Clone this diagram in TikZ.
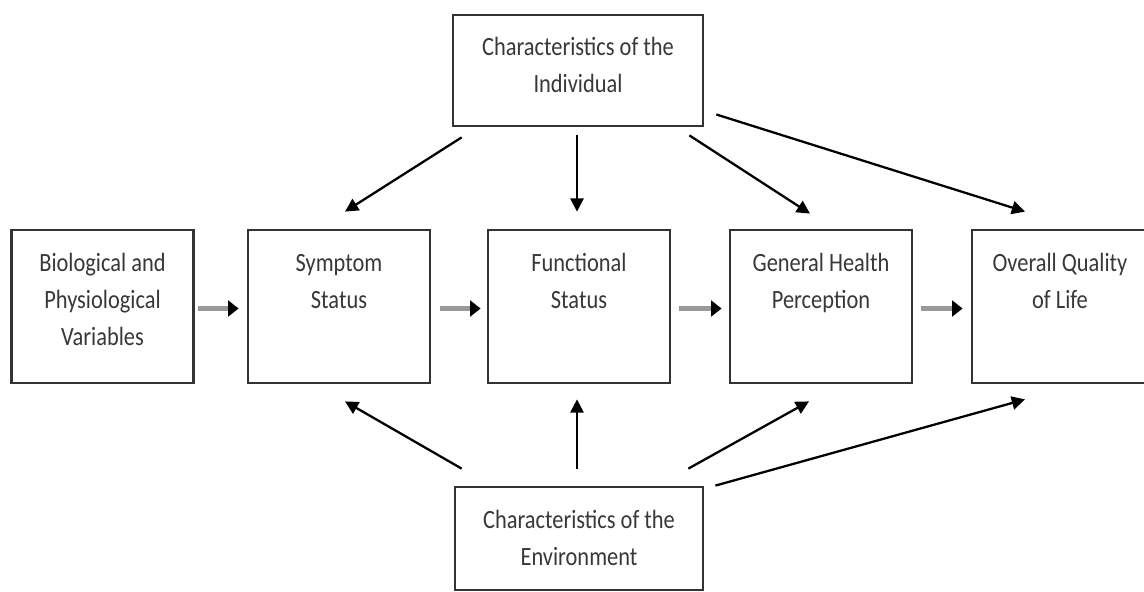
\documentclass[tikz,border=0pt]{standalone}
\usepackage{fontspec}
\setmainfont{Carlito}
\usetikzlibrary{arrows.meta,calc}
% condensed, multi-line box caption
\newcommand{\boxtext}[1]{\scalebox{0.85}[1]{\begin{tabular}[t]{@{}c@{}}#1\end{tabular}}}
\begin{document}
\begin{tikzpicture}[x=0.02cm,y=-0.02cm,
  box/.style={draw=black!80,line width=1.6pt,fill=white,inner sep=0pt},
  stage/.style={box,minimum width=3.64cm,minimum height=3.06cm},
  lbl/.style={anchor=base,inner sep=0pt,text=black!78,font=\fontsize{15}{21}\selectfont},
  link/.style={draw=black,line width=1.3pt,-{Triangle[length=7.5pt,width=7.5pt]}},
  flow/.style={draw=black!40,line width=3.2pt,-{Triangle[black,length=6pt,width=9pt]}}]
\clip (0,0) rectangle (1144,592);
\useasboundingbox (0,0) rectangle (1144,592);

% main sequence of stages
\node[stage] (bio) at (102.5,306.5) {};
\node[stage] (sym) at (339,306.5) {};
\node[stage] (fun) at (579,306.5) {};
\node[stage] (gen) at (821,306.5) {};
\node[stage] (ovr) at (1063,306.5) {};
% influencing characteristics
\node[box,minimum width=5cm,minimum height=2.22cm] (ind) at (578,70.5) {};
\node[box,minimum width=4.96cm,minimum height=2.06cm] (env) at (579,538.5) {};

% captions
\node[lbl] at ($(bio.north)+(0,43)$) {\boxtext{Biological and\\Physiological\\Variables}};
\node[lbl] at ($(sym.north)+(0,43)$) {\boxtext{Symptom\\Status}};
\node[lbl] at ($(fun.north)+(0,43)$) {\boxtext{Functional\\Status}};
\node[lbl] at ($(gen.north)+(0,43)$) {\boxtext{General Health\\Perception}};
\node[lbl] at ($(ovr.north)+(-3,43)$) {\boxtext{Overall Quality\\of Life}};
\node[lbl] at ($(ind.north)+(0,42)$) {\boxtext{Characteristics of the\\Individual}};
\node[lbl] at ($(env.north)+(0,43)$) {\boxtext{Characteristics of the\\Environment}};

% flow between stages
\draw[flow] ($(bio.east)+(3,2)$) -- ($(sym.west)+(-8,2)$);
\draw[flow] ($(sym.east)+(9,2)$) -- ($(fun.west)+(-6,2)$);
\draw[flow] ($(fun.east)+(8,2)$) -- ($(gen.west)+(-7,2)$);
\draw[flow] ($(gen.east)+(8,2)$) -- ($(ovr.west)+(-8,2)$);

% individual characteristics
\draw[link] ($(ind.south west)+(10,10)$) -- ($(sym.north)+(6,-17)$);
\draw[link] ($(ind.south)+(-1,8)$) -- ($(fun.north)+(-2,-17)$);
\draw[link] ($(ind.south east)+(-15,8)$) -- ($(gen.north)+(-11,-15)$);
\draw[link] ($(ind.east)+(12,44)$) -- ($(ovr.north)+(-38,-17)$);

% environment characteristics
\draw[link] ($(env.north west)+(8,-17)$) -- ($(sym.south)+(6,17)$);
\draw[link] ($(env.north)+(-2,-17)$) -- ($(fun.south)+(-2,15)$);
\draw[link] ($(env.north east)+(-16,-17)$) -- ($(gen.south)+(-12,17)$);
\draw[link] ($(env.north east)+(11,0)$) -- ($(ovr.south)+(-38,15)$);
\end{tikzpicture}
\end{document}
